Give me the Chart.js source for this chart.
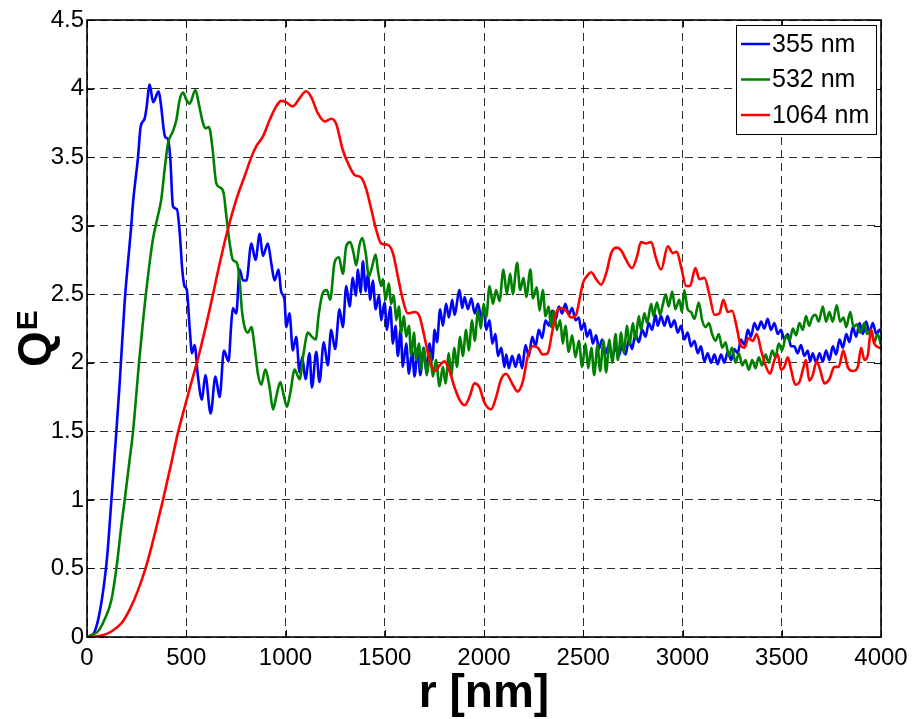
<!DOCTYPE html>
<html>
<head>
<meta charset="utf-8">
<script src="https://cdn.jsdelivr.net/npm/chart.js@4.4.0/dist/chart.umd.min.js"></script>
<style>
    html, body { margin: 0; padding: 0; background: #fff; }
    #wrap { width: 916px; height: 719px; }
</style>
</head>
<body>
<div id="wrap"><canvas id="qeChart" width="916" height="719"></canvas></div>
<script>
/* Extinction efficiency Q_E against particle radius r for three wavelengths */

// 355 nm
const r355 = [
    0, 22, 39, 64, 89, 103, 123, 148, 165, 190,
    223, 232, 257, 270, 290, 299, 316, 333, 361, 371,
    393, 408, 420, 433, 453, 467, 480, 491, 503, 517,
    529, 542, 559, 579, 596, 623, 647, 668, 690, 713,
    727, 735, 752, 769, 786, 803, 828, 849, 870, 886,
    911, 928, 945, 965, 978, 995, 1004, 1020, 1037, 1054,
    1071, 1084, 1101, 1121, 1133, 1155, 1171, 1193, 1213, 1230,
    1250, 1272, 1289, 1306, 1323, 1339, 1354, 1365, 1378, 1390,
    1404, 1415, 1427, 1440, 1454, 1471, 1482, 1499, 1511, 1528,
    1541, 1554, 1566, 1580, 1591, 1608, 1622, 1638, 1650, 1667,
    1679, 1696, 1709, 1726, 1740, 1751, 1763, 1779, 1793, 1809,
    1823, 1840, 1851, 1877, 1890, 1902, 1919, 1936, 1953, 1970,
    1986, 2000, 2011, 2028, 2042, 2058, 2070, 2087, 2103, 2112,
    2125, 2142, 2159, 2176, 2192, 2209, 2226, 2243, 2260, 2276,
    2293, 2310, 2327, 2343, 2360, 2377, 2394, 2410, 2427, 2444,
    2461, 2478, 2489, 2506, 2518, 2535, 2548, 2565, 2579, 2595,
    2612, 2629, 2646, 2663, 2679, 2696, 2713, 2730, 2746, 2763,
    2780, 2797, 2814, 2830, 2847, 2864, 2875, 2892, 2909, 2925,
    2942, 2959, 2976, 2993, 3009, 3026, 3043, 3060, 3077, 3093,
    3110, 3127, 3144, 3161, 3177, 3194, 3211, 3228, 3245, 3261,
    3278, 3295, 3312, 3329, 3345, 3362, 3379, 3396, 3412, 3429,
    3446, 3463, 3480, 3496, 3513, 3530, 3547, 3563, 3580, 3597,
    3614, 3631, 3643, 3656, 3673, 3690, 3707, 3723, 3740, 3757,
    3774, 3791, 3808, 3825, 3841, 3858, 3875, 3892, 3909, 3925,
    3942, 3959, 3976, 3992, 4000
];
const q355 = [
    0, 0.01, 0.04, 0.18, 0.42, 0.61, 1.0, 1.5, 1.86, 2.45,
    3.0, 3.17, 3.5, 3.72, 3.78, 3.85, 4.03, 3.9, 3.98, 3.9,
    3.65, 3.63, 3.48, 3.14, 3.12, 2.95, 2.68, 2.56, 2.53, 2.26,
    2.07, 2.13, 1.9, 1.73, 1.91, 1.63, 1.9, 1.75, 2.09, 2.01,
    2.29, 2.40, 2.36, 2.68, 2.60, 2.60, 2.87, 2.75, 2.94, 2.78,
    2.87, 2.73, 2.60, 2.68, 2.52, 2.46, 2.26, 2.36, 2.09, 2.19,
    1.93, 2.04, 1.88, 2.07, 1.82, 2.08, 1.86, 2.15, 1.98, 2.24,
    2.10, 2.39, 2.26, 2.56, 2.41, 2.62, 2.49, 2.68, 2.51, 2.74,
    2.52, 2.65, 2.46, 2.60, 2.39, 2.49, 2.31, 2.44, 2.24, 2.41,
    2.14, 2.27, 2.05, 2.24, 1.97, 2.14, 1.92, 2.09, 1.90, 2.11,
    1.91, 2.11, 1.94, 2.14, 2.02, 2.24, 2.15, 2.39, 2.27, 2.43,
    2.33, 2.46, 2.35, 2.53, 2.40, 2.48, 2.39, 2.47, 2.36, 2.43,
    2.33, 2.39, 2.24, 2.31, 2.14, 2.21, 2.05, 2.11, 1.97, 2.06,
    1.96, 2.05, 1.97, 2.06, 1.96, 2.13, 2.05, 2.19, 2.12, 2.24,
    2.18, 2.31, 2.27, 2.38, 2.31, 2.41, 2.36, 2.43, 2.35, 2.40,
    2.31, 2.33, 2.24, 2.29, 2.19, 2.24, 2.14, 2.20, 2.10, 2.17,
    2.07, 2.13, 2.04, 2.11, 2.05, 2.13, 2.06, 2.17, 2.10, 2.21,
    2.15, 2.24, 2.19, 2.29, 2.24, 2.35, 2.27, 2.34, 2.27, 2.34,
    2.26, 2.31, 2.22, 2.27, 2.17, 2.22, 2.12, 2.16, 2.07, 2.12,
    2.01, 2.07, 2.00, 2.06, 1.99, 2.06, 2.00, 2.08, 2.02, 2.10,
    2.07, 2.17, 2.13, 2.24, 2.19, 2.29, 2.24, 2.30, 2.25, 2.32,
    2.24, 2.29, 2.21, 2.24, 2.17, 2.21, 2.12, 2.12, 2.07, 2.13,
    2.05, 2.09, 2.01, 2.07, 2.00, 2.07, 2.01, 2.09, 2.02, 2.12,
    2.06, 2.17, 2.11, 2.21, 2.15, 2.26, 2.19, 2.29, 2.21, 2.30,
    2.22, 2.29, 2.21, 2.24, 2.22
];

// 532 nm
const r532 = [
    0, 14, 55, 89, 123, 148, 173, 190, 212, 232,
    262, 282, 307, 332, 352, 374, 391, 408, 433, 450,
    467, 484, 500, 517, 546, 563, 584, 597, 614, 631,
    651, 668, 688, 702, 719, 735, 755, 769, 780, 794,
    811, 828, 844, 861, 878, 898, 920, 937, 953, 974,
    990, 1007, 1024, 1046, 1071, 1091, 1113, 1133, 1152, 1168,
    1188, 1208, 1225, 1247, 1269, 1289, 1306, 1326, 1343, 1356,
    1373, 1387, 1404, 1420, 1436, 1454, 1465, 1482, 1491, 1504,
    1521, 1532, 1546, 1558, 1571, 1583, 1596, 1608, 1622, 1633,
    1647, 1658, 1672, 1684, 1696, 1712, 1729, 1742, 1758, 1776,
    1793, 1806, 1823, 1834, 1851, 1863, 1880, 1893, 1910, 1923,
    1940, 1953, 1970, 1984, 1998, 2011, 2028, 2045, 2061, 2078,
    2098, 2115, 2132, 2145, 2167, 2182, 2199, 2213, 2234, 2246,
    2266, 2280, 2296, 2310, 2326, 2338, 2352, 2367, 2384, 2397,
    2410, 2427, 2444, 2461, 2478, 2494, 2511, 2525, 2541, 2555,
    2572, 2585, 2602, 2615, 2632, 2646, 2663, 2674, 2691, 2704,
    2721, 2733, 2750, 2763, 2780, 2791, 2808, 2822, 2842, 2854,
    2871, 2887, 2900, 2916, 2930, 2948, 2964, 2984, 2997, 3009,
    3026, 3043, 3060, 3082, 3099, 3116, 3133, 3149, 3166, 3183,
    3200, 3217, 3233, 3250, 3267, 3284, 3301, 3317, 3334, 3351,
    3368, 3384, 3401, 3418, 3435, 3452, 3468, 3485, 3502, 3522,
    3539, 3556, 3572, 3589, 3606, 3622, 3638, 3653, 3670, 3686,
    3707, 3723, 3740, 3757, 3777, 3794, 3811, 3825, 3845, 3862,
    3878, 3895, 3917, 3930, 3950, 3966, 3983, 4000
];
const q532 = [
    0, 0.01, 0.04, 0.13, 0.27, 0.50, 0.81, 1.0, 1.26, 1.5,
    2.0, 2.3, 2.63, 2.90, 3.04, 3.19, 3.41, 3.60, 3.69, 3.77,
    3.92, 3.97, 3.92, 3.89, 3.99, 3.89, 3.75, 3.71, 3.72, 3.58,
    3.31, 3.28, 3.24, 3.07, 2.87, 2.75, 2.73, 2.60, 2.39, 2.26,
    2.22, 2.26, 2.12, 1.92, 1.84, 1.95, 1.82, 1.66, 1.75, 1.86,
    1.77, 1.68, 1.78, 1.95, 1.88, 2.07, 2.22, 2.19, 2.17, 2.36,
    2.51, 2.53, 2.46, 2.73, 2.77, 2.65, 2.85, 2.88, 2.80, 2.71,
    2.86, 2.91, 2.80, 2.63, 2.70, 2.79, 2.68, 2.56, 2.61, 2.46,
    2.58, 2.43, 2.49, 2.31, 2.41, 2.22, 2.34, 2.19, 2.27, 2.05,
    2.22, 2.02, 2.14, 1.95, 2.11, 1.91, 2.07, 1.90, 2.02, 1.83,
    1.97, 1.85, 2.07, 1.90, 2.11, 1.97, 2.19, 2.05, 2.24, 2.09,
    2.31, 2.16, 2.38, 2.25, 2.43, 2.33, 2.56, 2.43, 2.53, 2.45,
    2.68, 2.50, 2.65, 2.50, 2.73, 2.53, 2.62, 2.48, 2.68, 2.47,
    2.55, 2.38, 2.53, 2.34, 2.41, 2.26, 2.38, 2.24, 2.31, 2.14,
    2.27, 2.08, 2.20, 2.04, 2.16, 1.97, 2.14, 1.96, 2.11, 1.91,
    2.13, 1.94, 2.16, 1.93, 2.17, 2.00, 2.21, 2.02, 2.22, 2.07,
    2.27, 2.13, 2.29, 2.17, 2.34, 2.24, 2.36, 2.29, 2.43, 2.34,
    2.44, 2.35, 2.42, 2.50, 2.41, 2.52, 2.39, 2.46, 2.37, 2.53,
    2.39, 2.37, 2.32, 2.44, 2.31, 2.26, 2.29, 2.21, 2.16, 2.21,
    2.11, 2.15, 2.05, 2.11, 2.00, 2.07, 1.98, 2.02, 1.95, 2.02,
    1.96, 2.04, 1.98, 2.06, 2.00, 2.09, 2.04, 2.14, 2.09, 2.20,
    2.16, 2.25, 2.20, 2.29, 2.24, 2.34, 2.27, 2.33, 2.35, 2.30,
    2.41, 2.30, 2.37, 2.30, 2.42, 2.30, 2.33, 2.26, 2.37, 2.26,
    2.28, 2.22, 2.29, 2.21, 2.24, 2.15, 2.21, 2.13
];

// 1064 nm
const r1064 = [
    0, 72, 123, 173, 215, 257, 299, 341, 383, 425,
    458, 489, 517, 559, 601, 635, 651, 702, 752, 794,
    828, 853, 886, 920, 953, 979, 1003, 1037, 1071, 1104,
    1129, 1163, 1197, 1231, 1256, 1289, 1323, 1348, 1381, 1406,
    1432, 1457, 1482, 1516, 1541, 1566, 1591, 1616, 1650, 1675,
    1700, 1726, 1751, 1776, 1801, 1826, 1852, 1877, 1902, 1927,
    1952, 1977, 2002, 2036, 2061, 2086, 2111, 2145, 2170, 2195,
    2221, 2246, 2271, 2296, 2321, 2343, 2363, 2389, 2414, 2439,
    2464, 2481, 2498, 2518, 2540, 2565, 2590, 2615, 2641, 2666,
    2691, 2716, 2746, 2770, 2791, 2817, 2842, 2867, 2892, 2926,
    2951, 2971, 2993, 3018, 3038, 3065, 3085, 3110, 3135, 3161,
    3186, 3206, 3228, 3250, 3273, 3290, 3312, 3332, 3354, 3374,
    3396, 3421, 3441, 3463, 3480, 3496, 3513, 3530, 3547, 3568,
    3589, 3610, 3622, 3639, 3656, 3676, 3693, 3715, 3740, 3765,
    3787, 3810, 3832, 3858, 3883, 3900, 3916, 3933, 3950, 3966,
    3992, 4000
];
const q1064 = [
    0, 0.01, 0.04, 0.10, 0.20, 0.34, 0.52, 0.75, 1.0, 1.27,
    1.49, 1.66, 1.81, 2.03, 2.28, 2.5, 2.61, 2.93, 3.19, 3.36,
    3.50, 3.58, 3.65, 3.77, 3.87, 3.91, 3.90, 3.87, 3.93, 3.98,
    3.94, 3.82, 3.76, 3.78, 3.74, 3.55, 3.43, 3.37, 3.35, 3.27,
    3.12, 2.97, 2.87, 2.86, 2.80, 2.63, 2.46, 2.36, 2.37, 2.34,
    2.19, 2.02, 1.94, 1.98, 2.01, 1.94, 1.82, 1.73, 1.69, 1.75,
    1.85, 1.82, 1.71, 1.66, 1.75, 1.88, 1.92, 1.84, 1.79, 1.86,
    2.05, 2.12, 2.11, 2.06, 2.07, 2.22, 2.36, 2.40, 2.38, 2.33,
    2.35, 2.46, 2.58, 2.63, 2.66, 2.61, 2.57, 2.65, 2.80, 2.84,
    2.82, 2.75, 2.69, 2.77, 2.88, 2.87, 2.88, 2.76, 2.68, 2.85,
    2.80, 2.81, 2.70, 2.56, 2.56, 2.69, 2.61, 2.62, 2.50, 2.35,
    2.36, 2.46, 2.37, 2.38, 2.26, 2.14, 2.11, 2.18, 2.16, 2.21,
    2.09, 1.97, 1.92, 2.02, 2.06, 1.95, 1.97, 2.04, 1.95, 1.84,
    1.86, 1.97, 2.02, 1.87, 1.91, 2.01, 1.95, 1.85, 1.88, 1.97,
    1.97, 2.09, 1.97, 1.94, 1.97, 2.11, 2.02, 2.05, 2.24, 2.14,
    2.11, 2.10
];

const seriesNames = ['355 nm', '532 nm', '1064 nm'];
const seriesColours = ['#0000ff', '#008000', '#ff0000'];
const xTicks = [0, 500, 1000, 1500, 2000, 2500, 3000, 3500, 4000];
const yTicks = [0, 0.5, 1, 1.5, 2, 2.5, 3, 3.5, 4, 4.5];

const FONT = '"Liberation Sans", Arial, Helvetica, sans-serif';

function toPoints(rs, qs) {
    return rs.map((r, i) => ({ x: r, y: qs[i] }));
}

// box round the axes plus matlab style inward ticks
const axesBox = {
    id: 'axesBox',
    afterDatasetsDraw(chart) {
        const { ctx, chartArea: a, scales } = chart;
        ctx.save();
        ctx.strokeStyle = '#000';
        ctx.lineWidth = 1;
        ctx.beginPath();
        xTicks.forEach(v => {
            const px = Math.round(scales.x.getPixelForValue(v)) + 0.5;
            ctx.moveTo(px, a.bottom); ctx.lineTo(px, a.bottom - 7);
            ctx.moveTo(px, a.top); ctx.lineTo(px, a.top + 7);
        });
        yTicks.forEach(v => {
            const py = Math.round(scales.y.getPixelForValue(v)) + 0.5;
            ctx.moveTo(a.left, py); ctx.lineTo(a.left + 7, py);
            ctx.moveTo(a.right, py); ctx.lineTo(a.right - 7, py);
        });
        ctx.stroke();
        ctx.lineWidth = 1.6;
        ctx.strokeRect(a.left, a.top, a.right - a.left, a.bottom - a.top);
        ctx.restore();
    }
};

// legend in the top right corner and both axis titles
const labels = {
    id: 'labels',
    afterDraw(chart) {
        const { ctx, chartArea: a } = chart;
        ctx.save();

        // legend
        const lx = 736, ly = 25, lw = 140, lh = 109;
        ctx.fillStyle = '#fff';
        ctx.fillRect(lx, ly, lw, lh);
        ctx.strokeStyle = '#000';
        ctx.lineWidth = 1;
        ctx.strokeRect(lx + 0.5, ly + 0.5, lw, lh);
        ctx.font = '25px ' + FONT;
        ctx.textBaseline = 'middle';
        ctx.textAlign = 'left';
        seriesNames.forEach((name, i) => {
            const y = ly + 19 + i * 35.5;
            ctx.strokeStyle = seriesColours[i];
            ctx.lineWidth = 2.5;
            ctx.beginPath();
            ctx.moveTo(lx + 5, y);
            ctx.lineTo(lx + 34, y);
            ctx.stroke();
            ctx.fillStyle = '#000';
            ctx.fillText(name, lx + 36, y + 1);
        });

        // x title
        ctx.font = 'bold 46px ' + FONT;
        ctx.textAlign = 'center';
        ctx.textBaseline = 'alphabetic';
        ctx.fillText('r [nm]', (a.left + a.right) / 2, 707);

        // y title Q with superscript E, rotated
        ctx.translate(50, 367);
        ctx.rotate(-Math.PI / 2);
        ctx.textAlign = 'left';
        ctx.font = 'bold 46px ' + FONT;
        const qw = ctx.measureText('Q').width;
        ctx.fillText('Q', 0, 0);
        ctx.font = 'bold 30px ' + FONT;
        ctx.fillText('E', qw + 1, -13);
        ctx.restore();
    }
};

const datasets = [
    [r355, q355], [r532, q532], [r1064, q1064]
].map(([rs, qs], i) => ({
    label: seriesNames[i],
    data: toPoints(rs, qs),
    borderColor: seriesColours[i],
    borderWidth: 2.6,
    pointRadius: 0,
    showLine: true,
    fill: false,
    cubicInterpolationMode: 'monotone',
    order: 3 - i
}));

new Chart(document.getElementById('qeChart'), {
    type: 'scatter',
    data: { datasets: datasets },
    options: {
        responsive: false,
        animation: false,
        layout: { padding: { left: 0, top: 20, right: 35, bottom: 0 } },
        plugins: {
            legend: { display: false },
            title: { display: false },
            tooltip: { enabled: false }
        },
        scales: {
            x: {
                type: 'linear',
                min: 0,
                max: 4000,
                afterBuildTicks: s => { s.ticks = xTicks.map(v => ({ value: v })); },
                afterFit: s => { s.height = 82; },
                ticks: {
                    color: '#000',
                    font: { family: FONT, size: 24 },
                    padding: 7,
                    maxRotation: 0,
                    callback: v => String(v)
                },
                grid: { color: 'rgba(0,0,0,0.82)', lineWidth: 1, drawTicks: false },
                border: { display: false, dash: [8, 5] }
            },
            y: {
                type: 'linear',
                min: 0,
                max: 4.5,
                afterBuildTicks: s => { s.ticks = yTicks.map(v => ({ value: v })); },
                afterFit: s => { s.width = 87; },
                ticks: {
                    color: '#000',
                    font: { family: FONT, size: 24 },
                    padding: 3,
                    callback: v => String(v)
                },
                grid: { color: 'rgba(0,0,0,0.82)', lineWidth: 1, drawTicks: false },
                border: { display: false, dash: [8, 5] }
            }
        }
    },
    plugins: [axesBox, labels]
});
</script>
</body>
</html>
